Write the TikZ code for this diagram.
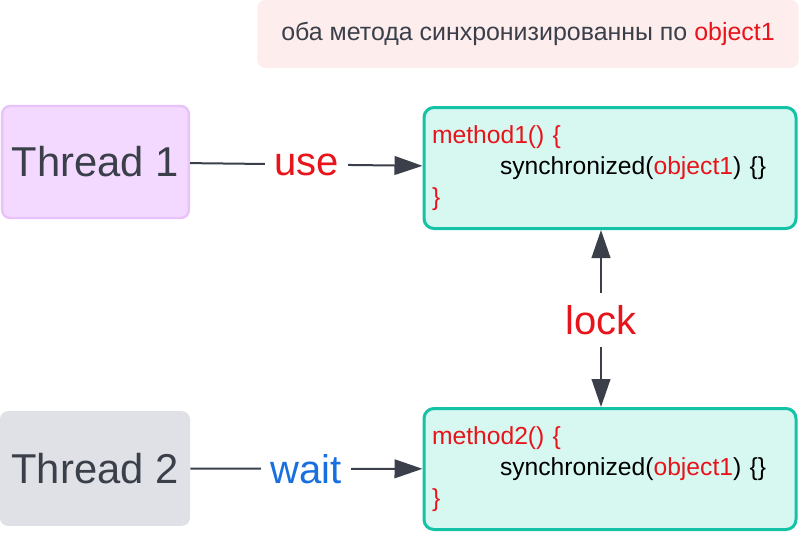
\documentclass[tikz,border=0pt]{standalone}
\usepackage{fontspec}
\setmainfont{Liberation Sans}
\usepackage{xcolor}
\definecolor{cred}{HTML}{E8141B}
\definecolor{cblue}{HTML}{1A6FE0}
\definecolor{cdark}{HTML}{3A3F4A}
\definecolor{cnote}{HTML}{FDEDED}
\definecolor{cth1}{HTML}{F3D9FF}
\definecolor{cth1b}{HTML}{E9C2FA}
\definecolor{cth2}{HTML}{DFE1E6}
\definecolor{cmeth}{HTML}{D6F8F1}
\definecolor{cmethb}{HTML}{14C3A6}
\usetikzlibrary{arrows.meta, positioning, calc}

\begin{document}
\begin{tikzpicture}[x=0.75pt, y=-0.75pt,
  >={Triangle[length=21pt, width=14pt]},
  thread/.style={rounded corners=6pt, minimum width=140pt, minimum height=84pt,
    text=cdark, font=\fontsize{31.3}{36}\selectfont},
  method/.style={draw=cmethb, fill=cmeth, line width=2.25pt, rounded corners=7.5pt,
    minimum width=279pt, minimum height=90.75pt, text width=267pt, inner xsep=6pt,
    align=left, font=\fontsize{18.5}{23}\selectfont},
  arrowlabel/.style={fill=white, inner xsep=7pt, inner ysep=9pt,
    font=\fontsize{30}{36}\selectfont},
  conn/.style={draw=cdark, line width=1.5pt}]

  \useasboundingbox (0,0) rectangle (799,533);

  % Note on top
  \node[fill=cnote, rounded corners=6pt, minimum width=406pt, minimum height=51pt,
    text=cdark, font=\fontsize{18.7}{23}\selectfont] (note) at (528,34)
    {оба метода синхронизированны по \textcolor{cred}{object1}};

  % Threads
  \node[thread, fill=cth1, draw=cth1b, line width=1.8pt] (T1) at (95.5,162) {Thread 1};
  \node[thread, fill=cth2, minimum width=142.5pt, minimum height=86pt] (T2) at (95,468.5) {Thread 2};

  % Methods
  \node[method] (M1) at (610,168) {\textcolor{cred}{method1() \{}\\
    \hspace*{51pt}synchronized(\textcolor{cred}{object1}) \{\}\\
    \textcolor{cred}{\}}};
  \node[method] (M2) at (610,469) {\textcolor{cred}{method2() \{}\\
    \hspace*{51pt}synchronized(\textcolor{cred}{object1}) \{\}\\
    \textcolor{cred}{\}}};

  % Thread -> method
  \draw[conn, ->] (T1) -- node[arrowlabel, text=cred] (use) {use} (M1);
  \draw[conn, ->] (T2) -- node[arrowlabel, text=cblue] (wait) {wait} (M2);

  % Lock between methods
  \node[arrowlabel, text=cred] (lock) at (601,320) {lock};
  \draw[conn, ->] (lock) -- (lock |- M1.south);
  \draw[conn, ->] (lock) -- (lock |- M2.north);

\end{tikzpicture}
\end{document}
